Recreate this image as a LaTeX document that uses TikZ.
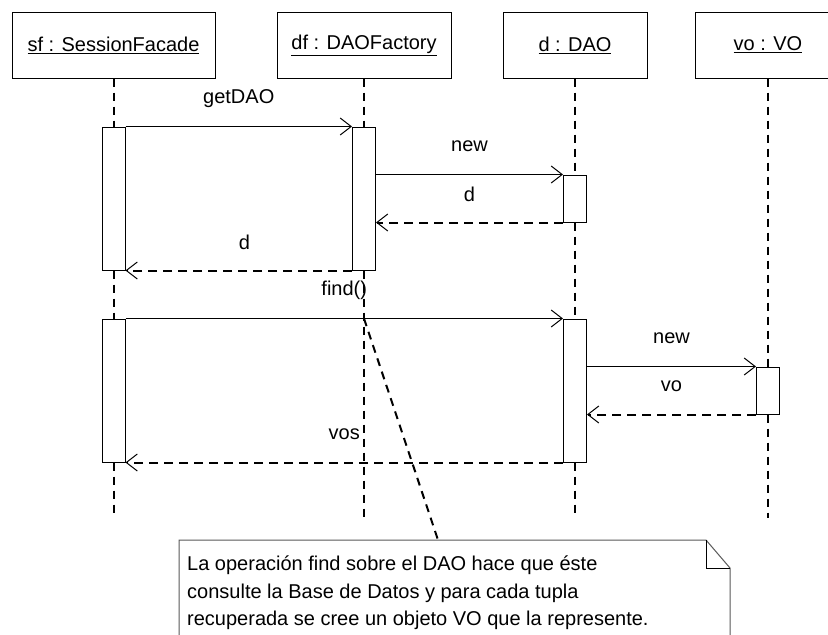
\documentclass[tikz,border=0pt]{standalone}
\usepackage{fontspec}
\setmainfont{Liberation Sans}
\usetikzlibrary{arrows.meta}

\begin{document}
\begin{tikzpicture}[x=1pt,y=-1pt,
  font=\fontsize{20}{25.5}\selectfont,
  obj/.style={draw,line width=1pt,minimum height=66pt,inner sep=0pt},
  act/.style={draw,line width=1pt,fill=white,minimum width=23pt,inner sep=0pt},
  life/.style={line width=2pt,dash pattern=on 8pt off 6pt},
  msg/.style={line width=1pt,-{Straight Barb[length=11pt,width=17pt]}},
  ret/.style={line width=2pt,dash pattern=on 9pt off 6pt,
    -{Straight Barb[length=11pt,width=17pt,line width=1pt]}},
  lbl/.style={midway,yshift=28pt}]
   \clip (0,0) rectangle (828,635);
   \fill[white] (0,0) rectangle (828,635);
   % objects
   \node[obj,minimum width=203pt] (sf) at (113.5,45) {\underline{sf : SessionFacade}};
   \node[obj,minimum width=174pt] (df) at (364,45) {\underline{df : DAOFactory}};
   \node[obj,minimum width=144pt] (d) at (575,45) {\underline{d : DAO}};
   \node[obj,minimum width=146pt] (vo) at (768,45) {\underline{vo : VO}};
   % activations
   \node[act,minimum height=143pt] (sfA1) at (113.5,198.5) {};
   \node[act,minimum height=143pt] (dfA) at (364,198.5) {};
   \node[act,minimum height=47pt] (dA1) at (575,198.5) {};
   \node[act,minimum height=143pt] (sfA2) at (113.5,390.5) {};
   \node[act,minimum height=143pt] (dA2) at (575,390.5) {};
   \node[act,minimum height=47pt] (voA) at (768,390.5) {};
   \coordinate (sfEnd) at (113.5,518);
   \coordinate (dfEnd) at (364,518);
   \coordinate (dEnd) at (575,518);
   \coordinate (voEnd) at (768,518);
   % lifelines
   \draw[life] (sf) -- (sfA1) (sfA1) -- (sfA2) (sfA2) -- (sfEnd);
   \draw[life] (df) -- (dfA) (dfA) -- (dfEnd);
   \draw[life] (d) -- (dA1) (dA1) -- (dA2) (dA2) -- (dEnd);
   \draw[life] (vo) -- (voA) (voA) -- (voEnd);
   % messages
   \draw[msg] (sfA1.north east) -- (dfA.north west) node[lbl]{getDAO};
   \draw[msg] (dfA.east |- dA1.north) -- (dA1.north west) node[lbl]{new};
   \draw[ret] (dA1.south west) -- (dfA.east |- dA1.south) node[lbl]{d};
   \draw[ret] (dfA.south west) -- (sfA1.south east) node[lbl,pos=0.475]{d};
   \draw[msg] (sfA2.north east) -- (dA2.north west) node[lbl]{find()};
   \draw[msg] (dA2.east |- voA.north) -- (voA.north west) node[lbl]{new};
   \draw[ret] (voA.south west) -- (dA2.east |- voA.south) node[lbl]{vo};
   \draw[ret] (dA2.south west) -- (sfA2.south east) node[lbl]{vos};
   % note
   \draw[black!65,line width=1pt] (179,540) -- (706,540) -- (730,568) -- (730,660) -- (179,660) -- cycle;
   \draw[line width=1pt] (706,540) -- (706,568) -- (730,568);
   \node[anchor=north west,align=left,inner sep=0pt,
     font=\fontsize{20}{25.5}\selectfont] (note) at (187,556)
     {La operación find sobre el DAO hace que éste\\[2pt]
      consulte la Base de Datos y para cada tupla\\[2pt]
      recuperada se cree un objeto VO que la represente.};
   \coordinate (findPt) at (dfA |- sfA2.north);
   \coordinate (noteTop) at (438,540);
   \draw[life] (findPt) -- (noteTop);
  \end{tikzpicture}
\end{document}
